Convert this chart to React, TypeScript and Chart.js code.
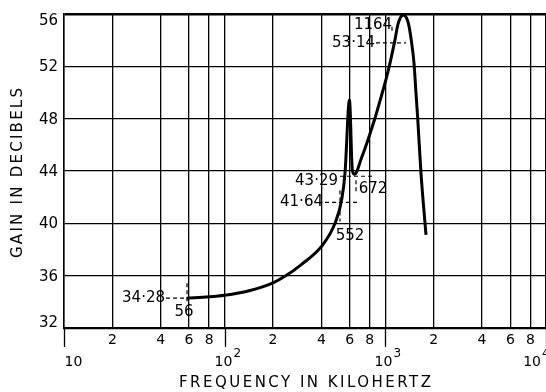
import React, { useEffect, useRef } from "react";
import { Chart, registerables } from "chart.js";

Chart.register(...registerables);

// Response curve (frequency in kHz, gain in dB)
const freqKHz = [58, 80, 100, 142, 200, 237, 300, 403, 486, 535, 561, 598, 623, 643, 713, 783, 862, 949, 1020, 1069, 1137, 1204, 1294, 1390, 1459, 1508, 1552, 1590, 1667, 1791];
const gainDb = [34.28, 34.38, 34.5, 34.85, 35.45, 35.95, 36.85, 38.27, 40.0, 41.8, 43.83, 49.43, 44.1, 43.75, 45.05, 46.45, 48.03, 49.81, 51.21, 52.24, 53.77, 55.3, 55.93, 55.3, 53.77, 52.24, 49.94, 48.03, 43.83, 39.11];

// Axes
const xMin = 10;
const xMax = 10000;
const xGridValues = [10, 20, 40, 60, 80, 100, 200, 400, 600, 800, 1000, 2000, 4000, 6000, 8000, 10000];
const xMinorTickValues = [20, 40, 60, 80, 200, 400, 600, 800, 2000, 4000, 6000, 8000];
const xMinorTickLabels = ["2", "4", "6", "8", "2", "4", "6", "8", "2", "4", "6", "8"];
const xDecadeValues = [10, 100, 1000, 10000];
const xDecadeExponents = ["", "2", "3", "4"];
const yMin = 32;
const yMax = 56;
const yTickValues = [32, 36, 40, 44, 48, 52, 56];
const xTitle = "FREQUENCY IN KILOHERTZ";
const yTitle = "GAIN IN DECIBELS";

// Marked points (anchor as drawn, and the printed values)
const annFreq = [58.3, 522, 657, 1100];
const annGain = [34.28, 41.6, 43.6, 53.8];
const annGainText = ["34·28", "41·64", "43·29", "53·14"];
const annFreqText = ["56", "552", "672", "1164"];

// label/leader offsets in pixels (style, not data)
const annLayout = [
  { h: [-21, 3], gx: -22, gy: 0, v: [-15, 3], fx: -3, fy: 14 },
  { h: [-15, 17], gx: -17, gy: 0, v: [-12, 19], fx: 10, fy: 34 },
  { h: [-16, 17], gx: -18, gy: 5, v: [4, 16], fx: 17, fy: 13 },
  { h: [-16, 14], gx: -17, gy: 0, v: [-16, -10], fx: -19, fy: -18 },
];

const FONT = "'DejaVu Sans', sans-serif";
const W = 546;
const H = 392;

function drawSpaced(ctx: CanvasRenderingContext2D, text: string, cx: number, cy: number, target: number) {
  (ctx as any).letterSpacing = "0px";
  const w0 = ctx.measureText(text).width;
  const sp = (target - w0) / (text.length - 1);
  (ctx as any).letterSpacing = sp + "px";
  ctx.textAlign = "left";
  ctx.textBaseline = "middle";
  ctx.fillText(text, cx - target / 2, cy);
  (ctx as any).letterSpacing = "0px";
}

const overlay = {
  id: "overlay",
  afterDraw(chart: any) {
    const ctx: CanvasRenderingContext2D = chart.ctx;
    const xs = chart.scales.x;
    const ys = chart.scales.y;
    const area = chart.chartArea;
    ctx.save();
    ctx.fillStyle = "#000";
    ctx.strokeStyle = "#000";

    // y labels (kept inside the frame at the ends)
    ctx.font = `15px ${FONT}`;
    ctx.textAlign = "right";
    ctx.textBaseline = "middle";
    yTickValues.forEach((v) => {
      const py = ys.getPixelForValue(v);
      const cy = Math.min(Math.max(py + 1, area.top + 7), area.bottom - 5);
      ctx.fillText(String(v), area.left - 6, cy);
    });

    // minor x labels
    ctx.font = `14px ${FONT}`;
    ctx.textAlign = "center";
    ctx.textBaseline = "middle";
    xMinorTickValues.forEach((v, i) => {
      ctx.fillText(xMinorTickLabels[i], xs.getPixelForValue(v), area.bottom + 12);
    });

    // decade marks + labels
    ctx.lineWidth = 1.3;
    xDecadeValues.forEach((v, i) => {
      const px = Math.round(xs.getPixelForValue(v)) + 0.5;
      ctx.beginPath();
      ctx.moveTo(px, area.bottom);
      ctx.lineTo(px, area.bottom + 19);
      ctx.stroke();
      ctx.font = `14px ${FONT}`;
      ctx.textBaseline = "middle";
      ctx.textAlign = "left";
      const wb = ctx.measureText("10").width;
      let start: number;
      if (i === 0) start = px;
      else start = Math.min(px - wb / 2 - 2, W - wb - 5);
      ctx.fillText("10", start, area.bottom + 34);
      if (xDecadeExponents[i]) {
        ctx.font = `12px ${FONT}`;
        ctx.fillText(xDecadeExponents[i], start + wb + 1, area.bottom + 26);
      }
    });

    // axis titles
    ctx.font = `15px ${FONT}`;
    drawSpaced(ctx, xTitle, (area.left + area.right) / 2, 383.5, 252);
    ctx.save();
    ctx.translate(18, (area.top + area.bottom) / 2 + 2);
    ctx.rotate(-Math.PI / 2);
    drawSpaced(ctx, yTitle, 0, 0, 170);
    ctx.restore();

    // annotations
    annFreq.forEach((f, i) => {
      const L = annLayout[i];
      const px = xs.getPixelForValue(f);
      const py = ys.getPixelForValue(annGain[i]);
      ctx.setLineDash([4, 3]);
      ctx.lineWidth = 1.2;
      ctx.beginPath();
      ctx.moveTo(px + L.h[0], py);
      ctx.lineTo(px + L.h[1], py);
      ctx.stroke();
      ctx.beginPath();
      ctx.moveTo(px, py + L.v[0]);
      ctx.lineTo(px, py + L.v[1]);
      ctx.stroke();
      ctx.setLineDash([]);
      ctx.font = `15px ${FONT}`;
      ctx.textBaseline = "middle";
      ctx.textAlign = "right";
      ctx.fillText(annGainText[i], px + L.gx, py + L.gy);
      ctx.textAlign = "center";
      ctx.fillText(annFreqText[i], px + L.fx, py + L.fy);
    });
    ctx.restore();
  },
};

export default function App() {
  const ref = useRef<HTMLCanvasElement | null>(null);
  useEffect(() => {
    const canvas = ref.current;
    if (!canvas) return;
    const chart = new Chart(canvas, {
      type: "line",
      data: {
        datasets: [
          {
            data: freqKHz.map((f, i) => ({ x: f, y: gainDb[i] })),
            borderColor: "#000",
            borderWidth: 3,
            pointRadius: 0,
            cubicInterpolationMode: "monotone",
            fill: false,
          },
        ],
      },
      options: {
        animation: false,
        responsive: false,
        maintainAspectRatio: false,
        layout: { padding: { top: 14, right: 0, left: 0, bottom: 0 } },
        plugins: { legend: { display: false }, tooltip: { enabled: false }, title: { display: false } },
        scales: {
          x: {
            type: "logarithmic",
            min: xMin,
            max: xMax,
            afterBuildTicks: (s: any) => {
              s.ticks = xGridValues.map((v) => ({ value: v }));
            },
            ticks: { display: false },
            grid: { color: "#000", lineWidth: 1.3, drawTicks: false },
            border: { color: "#000", width: 2.2 },
            afterFit: (s: any) => {
              s.height = 64;
              s.paddingLeft = 0;
              s.paddingRight = 0;
            },
          },
          y: {
            min: yMin,
            max: yMax,
            afterBuildTicks: (s: any) => {
              s.ticks = yTickValues.map((v) => ({ value: v }));
            },
            ticks: { display: false },
            grid: {
              color: "#000",
              lineWidth: (c: any) => (c.tick && c.tick.value === yMax ? 2.4 : 1.3),
              drawTicks: false,
            },
            border: { color: "#000", width: 1.5 },
            afterFit: (s: any) => {
              s.width = 64;
              s.paddingTop = 0;
              s.paddingBottom = 0;
            },
          },
        },
      } as any,
      plugins: [overlay],
    });
    return () => chart.destroy();
  }, []);
  return (
    <div style={{ position: "fixed", left: 0, top: 0, width: W, height: H, background: "#fff" }}>
      <canvas ref={ref} width={W} height={H} style={{ width: W, height: H }} />
    </div>
  );
}
